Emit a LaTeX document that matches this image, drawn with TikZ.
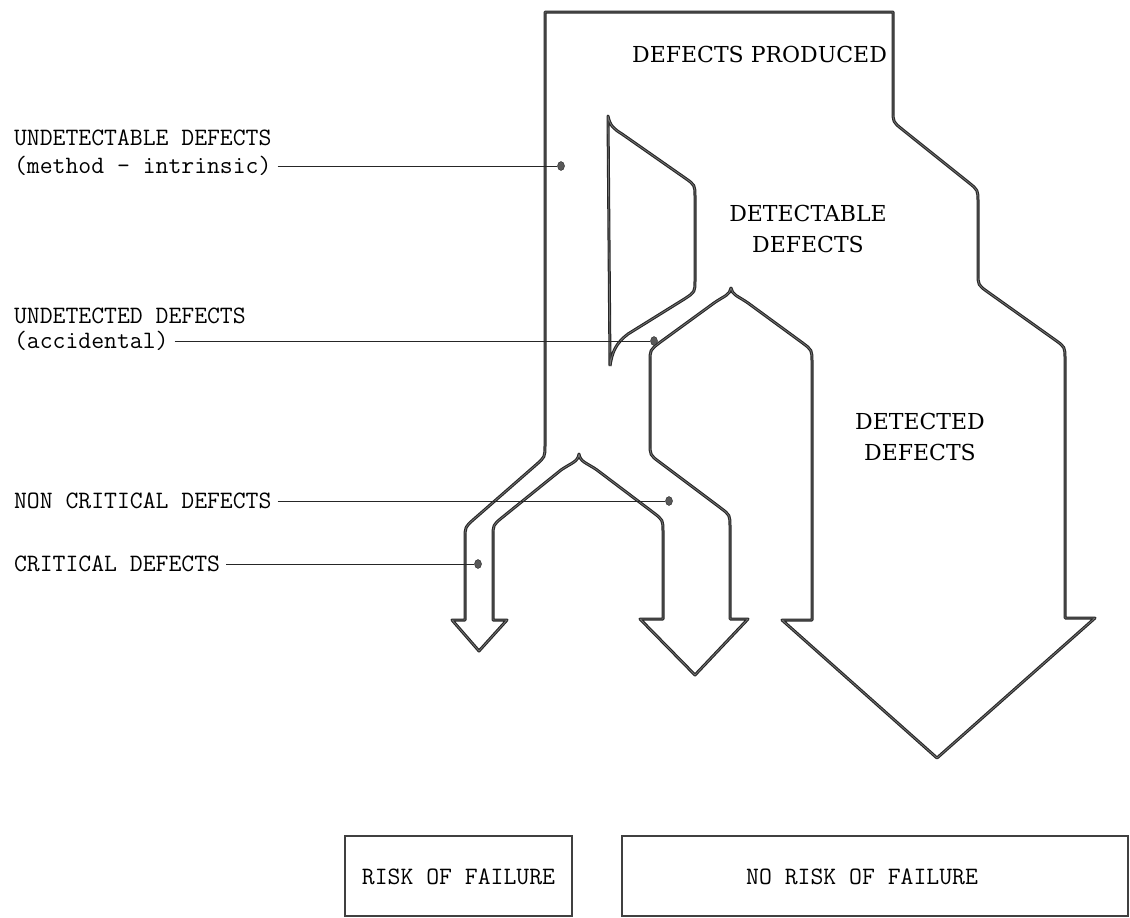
\documentclass[tikz,border=0pt]{standalone}
\usepackage{fontspec}
\newfontfamily\innerfont{DejaVu Serif}
\tikzset{
  outline/.style={draw=black!85, line width=1.1pt, double=black!55,
    double distance=0.8pt, line join=round},
  leader/.style={draw=black!85, line width=0.9pt},
  pindot/.style={ellipse, fill=black!65, draw=black!85, line width=0.4pt,
    minimum width=7pt, minimum height=9pt, inner sep=0pt},
  sidelabel/.style={anchor=west, inner sep=0pt, outer sep=6pt,
    font=\ttfamily\fontsize{25}{29}\selectfont},
  flowlabel/.style={align=center, inner sep=0pt,
    font=\innerfont\fontsize{22}{31}\selectfont},
  riskbox/.style={draw=black!75, line width=1.6pt, inner sep=0pt},
  boxtext/.style={inner sep=0pt, font=\ttfamily\fontsize{25}{29}\selectfont}
}
\usetikzlibrary{shapes.geometric}
\begin{document}
\begin{tikzpicture}[x=1pt, y=-1pt]
\useasboundingbox (0,0) rectangle (1130,918);

% main stream of produced defects, splitting into the three arrows
\draw[outline]
  (545,12) -- (893,12) -- (893,110) .. controls (893,122) .. (902.4,129.5)
  -- (968.6,182.5) .. controls (978,190) .. (978,202)
  -- (978,273) .. controls (978,285) .. (987.8,292)
  -- (1055.2,340) .. controls (1065,347) .. (1065,359)
  -- (1065,618) -- (1095,618) -- (937,758) -- (782,620) -- (812,620)
  -- (812,362) .. controls (812,350) .. (802.4,342.8)
  -- (748,303) .. controls (738,296) and (732,295) .. (731,288)
  .. controls (730,295) and (724,296) .. (714,303)
  -- (659.5,342.7) .. controls (650,350) .. (650,362)
  -- (650,443) .. controls (650,455) .. (659.6,462.2)
  -- (720.4,507.8) .. controls (730,515) .. (730,527)
  -- (730,619) -- (748,619) -- (695,675) -- (640,619) -- (663,619)
  -- (663,532) .. controls (663,520) .. (653.5,512.7)
  -- (597,470) .. controls (587,463) and (580,462) .. (579,454)
  .. controls (578,462) and (571,463) .. (561,470)
  -- (502.3,517.4) .. controls (493,525) .. (493,537)
  -- (493,620) -- (507,620) -- (479,651) -- (452,620) -- (465,620)
  -- (465,539) .. controls (465,527) .. (474,519.1)
  -- (536,464.9) .. controls (545,457) .. (545,445)
  -- cycle;

% the detection method's reach
\draw[outline]
  (610,366) -- (608,116) .. controls (610,126) and (614,129) .. (622,134)
  -- (685,178) .. controls (695,185) .. (695,197)
  -- (695,280) .. controls (695,292) .. (685,298.6)
  -- (628,334) .. controls (616,343) and (612,352) .. (610,366);

% labels inside the stream
\node[flowlabel, anchor=west] (produced) at (632,54) {DEFECTS PRODUCED};
\node[flowlabel] (detectable) at (808,229) {DETECTABLE\\DEFECTS};
\node[flowlabel] (detected) at (920,437) {DETECTED\\DEFECTS};

% pins marking each stream
\node[pindot] (pA) at (561,166) {};
\node[pindot] (pB) at (654,341) {};
\node[pindot] (pC) at (669,501) {};
\node[pindot] (pD) at (478,564) {};

% side labels with their leaders
\node[sidelabel] (lA1) at (8,138) {UNDETECTABLE DEFECTS};
\node[sidelabel] (lA2) at (8,166) {(method - intrinsic)};
\node[sidelabel] (lB1) at (8,316) {UNDETECTED DEFECTS};
\node[sidelabel] (lB2) at (8,341) {(accidental)};
\node[sidelabel] (lC) at (8,501) {NON CRITICAL DEFECTS};
\node[sidelabel] (lD) at (8,564) {CRITICAL DEFECTS};

\draw[leader] (lA2.east) -- (pA);
\draw[leader] (lB2.east) -- (pB);
\draw[leader] (lC.east) -- (pC);
\draw[leader] (lD.east) -- (pD);

% outcome boxes
\node[riskbox, minimum width=227pt, minimum height=80pt] (risk) at (458.5,876) {};
\node[boxtext] (risktext) at (458.5,877) {RISK OF FAILURE};
\node[riskbox, minimum width=506pt, minimum height=80pt] (norisk) at (875,876) {};
\node[boxtext] (norisktext) at (862,877) {NO RISK OF FAILURE};
\end{tikzpicture}
\end{document}
